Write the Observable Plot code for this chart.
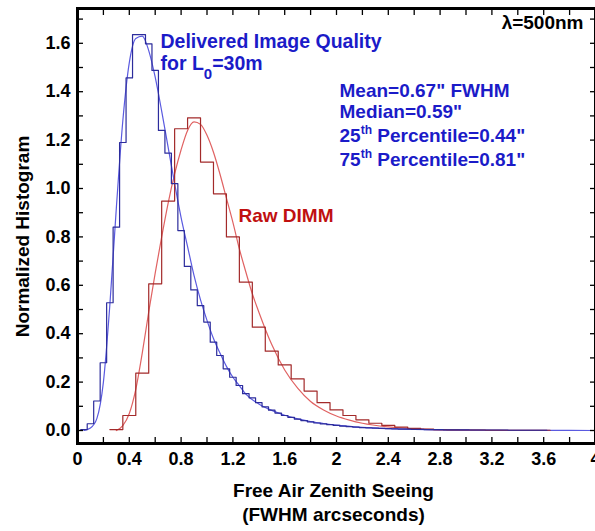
<!DOCTYPE html>
<html>
<head>
<meta charset="utf-8">
<script src="https://cdn.jsdelivr.net/npm/d3@7"></script>
<script src="https://cdn.jsdelivr.net/npm/@observablehq/plot@0.6"></script>
<style>
  html, body { margin: 0; padding: 0; background: #fff; }
  #chart { width: 595px; height: 531px; }
</style>
</head>
<body>
<div id="chart"></div>
<script>
// ---------- data ----------
// Delivered image quality histogram (bins of 0.05", first left edge 0.025")
const blueBinStart = 0.025;
const blueBinWidth = 0.05;
const blueHist = [0.004, 0.028, 0.122, 0.28, 0.528, 0.84, 1.19, 1.457, 1.636, 1.636,
  1.598, 1.488, 1.24, 1.146, 1.02, 0.826, 0.678, 0.581, 0.516, 0.448,
  0.365, 0.31, 0.255, 0.22, 0.186, 0.152, 0.135, 0.115, 0.098, 0.084,
  0.072, 0.062, 0.054, 0.047, 0.041, 0.036, 0.031, 0.027, 0.024, 0.021,
  0.018, 0.016, 0.014, 0.012, 0.011, 0.010, 0.009, 0.008, 0.007, 0.006,
  0.006, 0.005, 0.005, 0.004, 0.004, 0.004, 0.003, 0.003, 0.003, 0.003,
  0.002, 0.002, 0.002, 0.002, 0.002, 0.002, 0.001, 0.001, 0.001, 0.001, 0.001, 0.001];
// Delivered image quality fitted curve
const blueCurveX = [0.05, 0.10, 0.15, 0.20, 0.25, 0.30, 0.35, 0.40, 0.45, 0.50, 0.55, 0.60, 0.65, 0.70, 0.75,
  0.80, 0.85, 0.90, 0.95, 1.00, 1.05, 1.10, 1.15, 1.20, 1.25, 1.30, 1.40, 1.50, 1.60, 1.70, 1.80, 1.90,
  2.00, 2.20, 2.40, 2.60, 2.80, 3.20, 3.60, 4.00];
const blueCurveY = [0.0, 0.01, 0.05, 0.20, 0.52, 0.92, 1.28, 1.52, 1.62, 1.63, 1.57, 1.46, 1.32, 1.17, 1.02,
  0.88, 0.76, 0.64, 0.54, 0.455, 0.38, 0.32, 0.265, 0.22, 0.185, 0.15, 0.11, 0.083, 0.063, 0.048, 0.037, 0.029,
  0.022, 0.013, 0.008, 0.005, 0.003, 0.001, 0.0005, 0.0];

// Raw DIMM histogram (bins of 0.1", first left edge 0.25")
const redBinStart = 0.25;
const redBinWidth = 0.1;
const redHist = [0.004, 0.062, 0.237, 0.606, 0.948, 1.247, 1.292, 1.109, 0.978, 0.80,
  0.613, 0.427, 0.328, 0.271, 0.213, 0.163, 0.115, 0.085, 0.062, 0.044,
  0.030, 0.021, 0.014, 0.009, 0.006, 0.004, 0.003, 0.002, 0.002, 0.001,
  0.001, 0.001, 0.001, 0.001];
// Raw DIMM fitted curve
const redCurveX = [0.30, 0.35, 0.40, 0.45, 0.50, 0.55, 0.60, 0.65, 0.70, 0.75, 0.80, 0.85, 0.90, 0.95,
  1.00, 1.05, 1.10, 1.15, 1.20, 1.25, 1.30, 1.35, 1.40, 1.50, 1.60, 1.70, 1.80, 1.90, 2.00, 2.10, 2.20,
  2.40, 2.60, 2.80, 3.00, 3.40, 3.80];
const redCurveY = [0.0, 0.02, 0.07, 0.17, 0.32, 0.49, 0.65, 0.80, 0.94, 1.06, 1.16, 1.24, 1.275, 1.265,
  1.22, 1.15, 1.06, 0.96, 0.86, 0.75, 0.655, 0.565, 0.49, 0.355, 0.25, 0.175, 0.12, 0.085, 0.06, 0.043, 0.03,
  0.015, 0.007, 0.003, 0.001, 0.0, 0.0];

// axes
const xTickLabels = [0, 0.4, 0.8, 1.2, 1.6, 2, 2.4, 2.8, 3.2, 3.6, 4];
const xTicks = [0.2, 0.4, 0.6, 0.8, 1.0, 1.2, 1.4, 1.6, 1.8, 2.0, 2.2, 2.4, 2.6, 2.8, 3.0, 3.2, 3.4, 3.6, 3.8];
const yTickLabels = [0, 0.2, 0.4, 0.6, 0.8, 1.0, 1.2, 1.4, 1.6];
const yTicks = [0, 0.1, 0.2, 0.3, 0.4, 0.5, 0.6, 0.7, 0.8, 0.9, 1.0, 1.1, 1.2, 1.3, 1.4, 1.5, 1.6, 1.7];

// annotation texts
const labelDelivered = ["Delivered Image Quality", "for L_0=30m"];
const labelStats = ["Mean=0.67\" FWHM", "Median=0.59\"", "25^th Percentile=0.44\"", "75^th Percentile=0.81\""];
const labelRaw = "Raw DIMM";
const labelLambda = "λ=500nm";
const yTitle = "Normalized Histogram";
const xTitle = ["Free Air Zenith Seeing", "(FWHM arcseconds)"];

// ---------- build tables ----------
function steps(start, width, vals) {
  const pts = vals.map((v, i) => ({x: start + i * width, y: v}));
  pts.push({x: start + vals.length * width, y: vals[vals.length - 1]});
  return pts;
}
const blueSteps = steps(blueBinStart, blueBinWidth, blueHist);
const redSteps = steps(redBinStart, redBinWidth, redHist);
const blueCurve = blueCurveX.map((x, i) => ({x, y: blueCurveY[i]}));
const redCurve = redCurveX.map((x, i) => ({x, y: redCurveY[i]}));

const BLUE_TXT = "#1b1bc8";
const RED_TXT = "#c01010";
const FONT = "'Liberation Sans', Arial, sans-serif";
const statOffsets = [88, 109, 133, 157];

const plot = Plot.plot({
  width: 595,
  height: 531,
  marginLeft: 77,
  marginRight: 0,
  marginTop: 8,
  marginBottom: 88,
  x: {domain: [0, 4]},
  y: {domain: [-0.0537, 1.7438]},
  style: {fontFamily: FONT, fontWeight: "bold", fontSize: "18px", color: "black", background: "white", overflow: "visible"},
  marks: [
    // curves
    Plot.line(redCurve, {x: "x", y: "y", stroke: "#e06262", strokeWidth: 1.2, curve: "monotone-x"}),
    Plot.line(blueCurve, {x: "x", y: "y", stroke: "#5a5ae0", strokeWidth: 1.2, curve: "monotone-x"}),
    // histograms
    Plot.line(redSteps, {x: "x", y: "y", stroke: "#a32a2a", strokeWidth: 1.2, curve: "step-after"}),
    Plot.line(blueSteps, {x: "x", y: "y", stroke: "#2c2c9c", strokeWidth: 1.2, curve: "step-after"}),
    // inward ticks
    Plot.axisY(yTicks, {anchor: "left", tickSize: 6, dx: 6, tickFormat: () => "", label: null, strokeWidth: 1.3}),
    Plot.axisY(yTicks, {anchor: "right", tickSize: 6, dx: -6, tickFormat: () => "", label: null, strokeWidth: 1.3}),
    Plot.axisX(xTicks, {anchor: "bottom", tickSize: 6, dy: -6, tickFormat: () => "", label: null, strokeWidth: 1.3}),
    Plot.axisX(xTicks, {anchor: "top", tickSize: 6, dy: 6, tickFormat: () => "", label: null, strokeWidth: 1.3}),
    // tick labels
    Plot.axisY(yTickLabels, {anchor: "left", tickSize: 0, tickPadding: 7, tickFormat: d => d.toFixed(1), label: null, fontSize: 18, fontWeight: "bold"}),
    Plot.axisX(xTickLabels, {anchor: "bottom", tickSize: 0, tickPadding: 9, tickFormat: d => String(+d.toFixed(1)), label: null, fontSize: 18, fontWeight: "bold"}),
    // axis titles
    Plot.text([yTitle], {frameAnchor: "left", rotate: -90, fontSize: 19, fontWeight: "bold", fill: "black"}),
    Plot.text([xTitle[0]], {frameAnchor: "bottom", dx: -3, dy: 53, fontSize: 19, fontWeight: "bold", fill: "black"}),
    Plot.text([xTitle[1]], {frameAnchor: "bottom", dx: -3, dy: 77, fontSize: 19, fontWeight: "bold", fill: "black"}),
    // annotations
    Plot.text([labelDelivered[0]], {frameAnchor: "top-left", dx: 83, dy: 39, textAnchor: "start", lineAnchor: "bottom", fontSize: 19.5, fontWeight: "bold", fill: BLUE_TXT}),
    Plot.text([labelDelivered[1]], {frameAnchor: "top-left", dx: 83, dy: 61, textAnchor: "start", lineAnchor: "bottom", fontSize: 19.5, fontWeight: "bold", fill: BLUE_TXT}),
    ...labelStats.map((s, i) => Plot.text([s], {frameAnchor: "top-left", dx: 262, dy: statOffsets[i], textAnchor: "start", lineAnchor: "bottom", fontSize: 19, fontWeight: "bold", fill: BLUE_TXT})),
    Plot.text([labelRaw], {frameAnchor: "top-left", dx: 161, dy: 213, textAnchor: "start", lineAnchor: "bottom", fontSize: 19, fontWeight: "bold", fill: RED_TXT}),
    Plot.text([labelLambda], {frameAnchor: "top-right", dx: -12, dy: 20, textAnchor: "end", lineAnchor: "bottom", fontSize: 19, fontWeight: "bold", fill: "black"}),
    Plot.frame({stroke: "black", strokeWidth: 3})
  ]
});

// place the rotated y title (center x=22, y=236)
d3.select(plot).selectAll("text").filter(function() { return this.textContent === yTitle; })
  .attr("x", null).attr("y", null).attr("dx", null).attr("dy", null)
  .attr("transform", "translate(22,236) rotate(-90)")
  .attr("text-anchor", "middle").attr("dominant-baseline", "central");

// super / subscripts
d3.select(plot).selectAll("text").each(function() {
  const s = this.textContent;
  if (!/[\^_]\w/.test(s)) return;
  const parts = s.split(/([\^_]\w+)/);
  const el = d3.select(this);
  el.text(null);
  let shift = 0;
  for (const p of parts) {
    if (!p) continue;
    if (p[0] === "^") {
      el.append("tspan").attr("dy", -8 - shift).attr("font-size", 12).text(p.slice(1));
      shift = -8;
    } else if (p[0] === "_") {
      el.append("tspan").attr("dy", 9 - shift).attr("font-size", 15).text(p.slice(1));
      shift = 9;
    } else {
      el.append("tspan").attr("dy", -shift).text(p);
      shift = 0;
    }
  }
});

document.getElementById("chart").appendChild(plot);
</script>
</body>
</html>
